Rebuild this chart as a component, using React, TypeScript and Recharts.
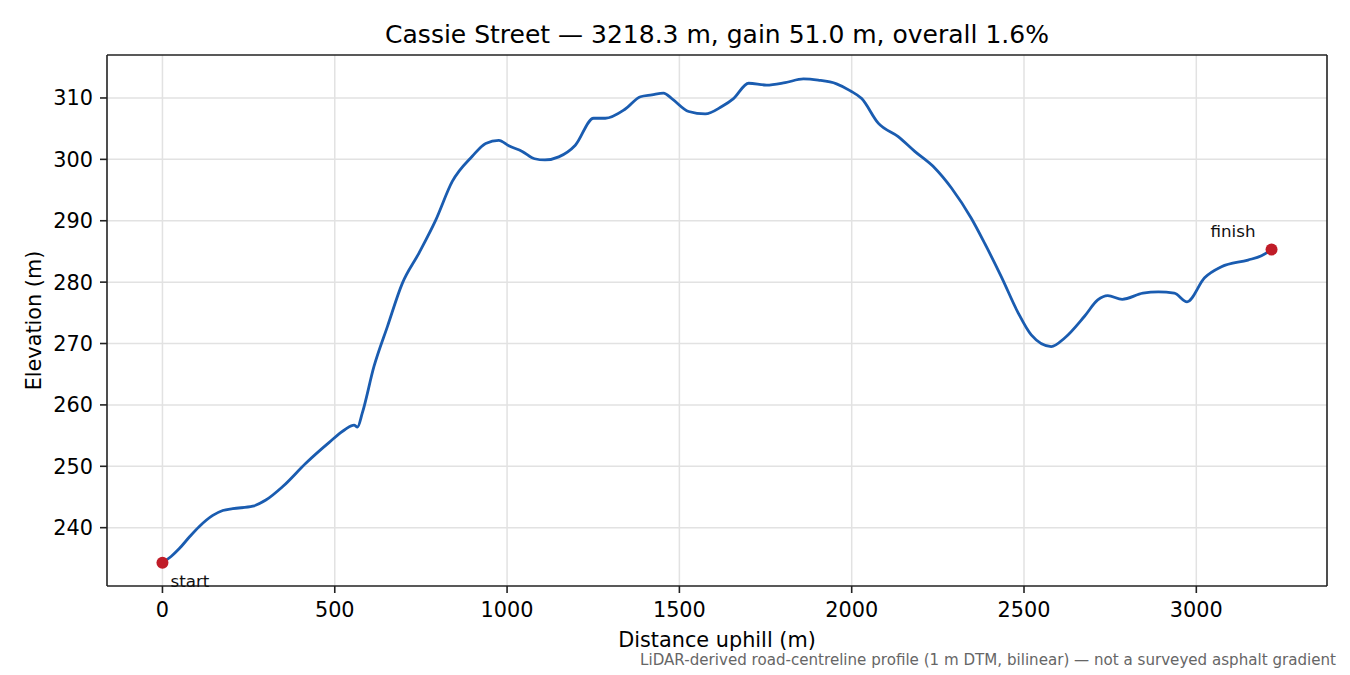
import React from 'react';
import { ComposedChart, Line, XAxis, YAxis, CartesianGrid, ReferenceDot, ReferenceLine } from 'recharts';

const distances = [
  0, 25, 49, 80, 107, 146, 175, 204, 262, 300, 349, 416, 484, 530, 556, 566, 580, 614, 653, 696,
  744, 793, 841, 899, 938, 976, 1005, 1044, 1080, 1110, 1150, 1198, 1251, 1285, 1343, 1387, 1420,
  1454, 1478, 1527, 1575, 1623, 1657, 1701, 1753, 1807, 1860, 1903, 1956, 1995, 2029, 2077, 2135,
  2183, 2241, 2290, 2347, 2386, 2434, 2483, 2521, 2579, 2618, 2675, 2714, 2743, 2785, 2845, 2890,
  2936, 2973, 3024, 3073, 3150, 3189, 3218.3,
];
const elevations = [
  234.3, 235.3, 236.6, 238.6, 240.2, 242.0, 242.8, 243.1, 243.5, 244.5, 246.7, 250.5, 253.9, 256.0,
  256.7, 256.4, 258.7, 266.3, 272.8, 279.8, 284.7, 290.1, 296.4, 300.5, 302.6, 303.1, 302.2, 301.3,
  300.1, 299.9, 300.4, 302.3, 306.7, 306.7, 308.2, 310.2, 310.5, 310.8, 309.9, 307.8, 307.4, 308.6,
  309.9, 312.4, 312.1, 312.5, 313.1, 312.9, 312.3, 311.2, 309.9, 305.9, 303.7, 301.3, 298.6, 295.3,
  290.4, 286.3, 280.9, 275.0, 271.4, 269.5, 270.9, 274.4, 277.1, 277.8, 277.2, 278.2, 278.4, 278.2,
  276.8, 280.7, 282.5, 283.6, 284.3, 285.3,
];
const xTicks = [0, 500, 1000, 1500, 2000, 2500, 3000];
const yTicks = [240, 250, 260, 270, 280, 290, 300, 310];
const titleText = 'Cassie Street — 3218.3 m, gain 51.0 m, overall 1.6%';
const xLabelText = 'Distance uphill (m)';
const yLabelText = 'Elevation (m)';
const footerText = 'LiDAR-derived road-centreline profile (1 m DTM, bilinear) — not a surveyed asphalt gradient';
const startLabel = 'start';
const finishLabel = 'finish';

const data = distances.map((d, i) => ({ d, e: elevations[i] }));
const xSpan = distances[distances.length - 1] - distances[0];
const xDomain: [number, number] = [distances[0] - 0.05 * xSpan, distances[distances.length - 1] + 0.05 * xSpan];
const yDomain: [number, number] = [230.5, 317.0];

const FONT = 'DejaVu Sans';
const LINE = '#1a5cb0';
const RED = '#c01c28';
const AXIS = '#222';

const startLabelRender = (p: any) => {
  const vb = p.viewBox;
  const cx = vb.x + vb.width / 2;
  const cy = vb.y + vb.height / 2;
  return (
    <text x={cx + 8} y={cy + 24} fontSize={16.7} fontFamily={FONT} fill="#111">
      {startLabel}
    </text>
  );
};
const finishLabelRender = (p: any) => {
  const vb = p.viewBox;
  const cx = vb.x + vb.width / 2;
  const cy = vb.y + vb.height / 2;
  return (
    <text x={cx - 16} y={cy - 12.5} fontSize={16.7} fontFamily={FONT} fill="#111" textAnchor="end">
      {finishLabel}
    </text>
  );
};

export default function App() {
  const tickStyle = { fill: '#000', fontSize: 20.8, fontFamily: FONT };
  return (
    <div style={{ position: 'absolute', left: 0, top: 0, width: 1350, height: 675, background: '#fff' }}>
      <ComposedChart
        width={1350}
        height={675}
        data={data}
        margin={{ top: 55, right: 23, bottom: 49, left: 47 }}
      >
        <CartesianGrid stroke="#e2e2e2" strokeWidth={1.5} verticalValues={xTicks} horizontalValues={yTicks} />
        <XAxis
          dataKey="d"
          type="number"
          domain={xDomain}
          ticks={xTicks}
          allowDataOverflow
          height={40}
          tick={tickStyle}
          tickSize={7}
          tickMargin={9}
          axisLine={{ stroke: AXIS, strokeWidth: 1.6 }}
          tickLine={{ stroke: AXIS, strokeWidth: 1.6 }}
        />
        <YAxis
          type="number"
          domain={yDomain}
          ticks={yTicks}
          allowDataOverflow
          width={60}
          tick={tickStyle}
          tickSize={7}
          tickMargin={7}
          axisLine={{ stroke: AXIS, strokeWidth: 1.6 }}
          tickLine={{ stroke: AXIS, strokeWidth: 1.6 }}
        />
        <ReferenceLine y={yDomain[1]} stroke={AXIS} strokeWidth={1.6} ifOverflow="visible" />
        <ReferenceLine x={xDomain[1]} stroke={AXIS} strokeWidth={1.6} ifOverflow="visible" />
        <Line
          type="monotone"
          dataKey="e"
          stroke={LINE}
          strokeWidth={2.8}
          dot={false}
          activeDot={false}
          isAnimationActive={false}
          strokeLinejoin="round"
        />
        <ReferenceDot
          x={distances[0]}
          y={elevations[0]}
          r={6}
          fill={RED}
          stroke="none"
          label={startLabelRender}
        />
        <ReferenceDot
          x={distances[distances.length - 1]}
          y={elevations[elevations.length - 1]}
          r={6}
          fill={RED}
          stroke="none"
          label={finishLabelRender}
        />
      </ComposedChart>
      <svg
        width={1350}
        height={675}
        style={{ position: 'absolute', left: 0, top: 0, pointerEvents: 'none' }}
      >
        <text x={717} y={42.5} textAnchor="middle" fontSize={25} fontFamily={FONT} fill="#000">
          {titleText}
        </text>
        <text x={717} y={647} textAnchor="middle" fontSize={20.8} fontFamily={FONT} fill="#000">
          {xLabelText}
        </text>
        <text
          x={41}
          y={320.5}
          textAnchor="middle"
          fontSize={20.8}
          fontFamily={FONT}
          fill="#000"
          transform="rotate(-90, 41, 320.5)"
        >
          {yLabelText}
        </text>
        <text x={1336} y={665} textAnchor="end" fontSize={15.1} fontFamily={FONT} fill="#666">
          {footerText}
        </text>
      </svg>
    </div>
  );
}
